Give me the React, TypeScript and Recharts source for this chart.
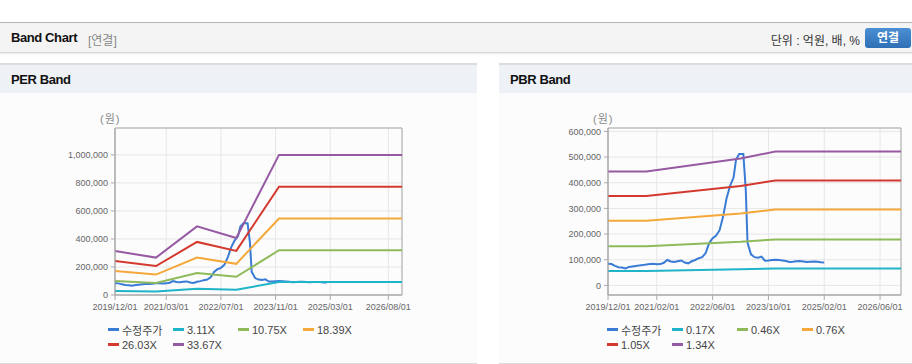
import { CartesianGrid, Line, LineChart, ReferenceArea, XAxis, YAxis } from 'recharts'

// month index 0 = 2019/12
const PRICE_MONTHS = [
  0, 1, 2, 3, 4, 5, 6, 7, 8, 9, 10, 11, 12, 13, 14, 15, 16, 17, 18, 19, 20, 21, 22, 23, 24, 25, 26, 27, 28, 29,
  30, 31, 32, 33, 34, 35, 36, 36.7, 37.6, 38.8, 39.5, 40, 41, 42, 43, 44, 45, 46, 47, 48, 49, 50, 51, 52, 53, 54,
  55, 56, 57, 58, 59, 60, 61, 62,
]
const PRICE = [
  84000, 83000, 76000, 71000, 70000, 66000, 72000, 74000, 76000, 78000, 79000, 81000, 83000, 84000, 82000, 83000,
  88000, 99000, 93000, 91000, 94000, 97000, 89000, 86000, 94000, 99000, 106000, 110000, 126000, 165000, 184000,
  194000, 215000, 268000, 340000, 388000, 420000, 489000, 512000, 512000, 372000, 166000, 121000, 110000, 108000,
  112000, 96000, 97000, 99000, 100000, 99000, 97000, 95000, 91000, 92000, 94000, 95000, 93000, 91000, 92000, 93000,
  92000, 90000, 89000,
]

const PER_MONTHS = [0, 12, 24, 35.5, 48, 84]
const PER_311 = [29000, 24700, 45300, 37600, 92400, 92400]
const PER_1075 = [100300, 85200, 156400, 129900, 319300, 319300]
const PER_1839 = [171500, 145800, 267600, 222300, 546200, 546200]
const PER_2603 = [242800, 206400, 378800, 314600, 773100, 773100]
const PER_3367 = [314000, 267000, 490000, 407000, 1000000, 1000000]
const PER_X_TICKS = [0, 15, 31, 47, 63, 80]
const PER_X_LABELS = ['2019/12/01', '2021/03/01', '2022/07/01', '2023/11/01', '2025/03/01', '2026/08/01']
const PER_Y_TICKS = [0, 200000, 400000, 600000, 800000, 1000000]

const PBR_MONTHS = [0, 11, 38, 48, 84]
const PBR_017 = [56300, 56300, 62700, 66200, 66200]
const PBR_046 = [152400, 152400, 169600, 179200, 179200]
const PBR_076 = [251800, 251800, 280200, 296100, 296100]
const PBR_105 = [347900, 347900, 387100, 409100, 409100]
const PBR_134 = [444000, 444000, 494000, 522000, 522000]
const PBR_X_TICKS = [0, 14, 30, 46, 62, 78]
const PBR_X_LABELS = ['2019/12/01', '2021/02/01', '2022/06/01', '2023/10/01', '2025/02/01', '2026/06/01']
const PBR_Y_TICKS = [0, 100000, 200000, 300000, 400000, 500000, 600000]

const COLORS = ['#3a7bd5', '#1fb4c8', '#8fba5a', '#f4a83a', '#d4392d', '#965aa3']
const PER_NAMES = ['수정주가', '3.11X', '10.75X', '18.39X', '26.03X', '33.67X']
const PBR_NAMES = ['수정주가', '0.17X', '0.46X', '0.76X', '1.05X', '1.34X']

const FONT = 'Arial, "Liberation Sans", "Noto Sans CJK KR", sans-serif'
const AXIS = '#aaaaaa'
const TICK = { fill: '#666', fontSize: 9, fontFamily: FONT }

const toPoints = (months: number[], values: number[]) => months.map((m, i) => ({ m, v: values[i] }))

function BandChart(props: {
  left: number
  width: number
  margin: { top: number; right: number; left: number; bottom: number }
  yDomain: [number, number]
  yTicks: number[]
  xTicks: number[]
  xLabels: string[]
  bandMonths: number[]
  bands: number[][]
}) {
  const { left, width, margin, yDomain, yTicks, xTicks, xLabels, bandMonths, bands } = props
  const series = [toPoints(PRICE_MONTHS, PRICE), ...bands.map((b) => toPoints(bandMonths, b))]
  return (
    <div style={{ position: 'absolute', left, top: 100, width, height: 215 }}>
      <LineChart width={width} height={215} margin={margin}>
        <CartesianGrid stroke="#e6e6e6" />
        <XAxis
          dataKey="m"
          type="number"
          domain={[0, 84]}
          ticks={xTicks}
          interval={0}
          tickFormatter={(v: number) => xLabels[xTicks.indexOf(v)] ?? ''}
          tick={TICK}
          height={20}
          tickSize={5}
          tickMargin={4}
          axisLine={{ stroke: AXIS }}
          tickLine={{ stroke: AXIS }}
          allowDataOverflow
        />
        <YAxis
          type="number"
          domain={yDomain}
          ticks={yTicks}
          interval={0}
          width={60}
          tickFormatter={(v: number) => v.toLocaleString('en-US')}
          tick={TICK}
          tickSize={4}
          tickMargin={3}
          axisLine={{ stroke: AXIS }}
          tickLine={{ stroke: AXIS }}
          allowDataOverflow
        />
        <ReferenceArea x1={0} x2={84} y1={yDomain[0]} y2={yDomain[1]} fill="none" stroke={AXIS} ifOverflow="visible" />
        {series.map((data, i) => (
          <Line
            key={i}
            data={data}
            dataKey="v"
            type="linear"
            stroke={COLORS[i]}
            strokeWidth={2}
            dot={false}
            activeDot={false}
            isAnimationActive={false}
          />
        ))}
      </LineChart>
    </div>
  )
}

function Legend({ left, names }: { left: number; names: string[] }) {
  return (
    <>
      {names.map((name, i) => (
        <div
          key={name}
          style={{
            position: 'absolute',
            left: left + (i % 4) * 65,
            top: i < 4 ? 322 : 337,
            height: 15,
            display: 'flex',
            alignItems: 'center',
            fontSize: 11,
            color: '#444',
            whiteSpace: 'nowrap',
          }}
        >
          <span style={{ width: 11, height: 3, background: COLORS[i], marginRight: 3 }} />
          {name}
        </div>
      ))}
    </>
  )
}

function Panel({ left, width, title }: { left: number; width: number; title: string }) {
  return (
    <div
      style={{
        position: 'absolute',
        left,
        top: 63,
        width,
        height: 298,
        borderTop: '2px solid #dcdcdc',
        borderBottom: '2px solid #dcdcdc',
        background: '#fcfcfd',
      }}
    >
      <div
        style={{
          height: 28,
          background: '#eef2f7',
          paddingLeft: 11,
          lineHeight: '30px',
          fontSize: 13,
          fontWeight: 'bold',
          color: '#111',
          letterSpacing: -0.4,
        }}
      >
        {title}
      </div>
    </div>
  )
}

export default function App() {
  return (
    <div style={{ position: 'relative', width: 912, height: 364, overflow: 'hidden', fontFamily: FONT, background: '#fff' }}>
      <style>{'body{margin:0}'}</style>
      <div
        style={{
          position: 'absolute',
          left: 0,
          top: 22,
          width: 912,
          height: 29,
          borderTop: '1px solid #b5b5b5',
          borderBottom: '1px solid #d6d6d6',
          boxShadow: '0 1px 2px rgba(0,0,0,0.10)',
          background: '#f4f4f4',
        }}
      >
        <span style={{ position: 'absolute', left: 11, top: 7, fontSize: 13, fontWeight: 'bold', color: '#111', letterSpacing: -0.4 }}>
          Band Chart
        </span>
        <span style={{ position: 'absolute', left: 88, top: 8, fontSize: 12, color: '#888' }}>[연결]</span>
        <span style={{ position: 'absolute', right: 52, top: 8, fontSize: 12, color: '#333' }}>단위 : 억원, 배, %</span>
        <div
          style={{
            position: 'absolute',
            left: 865,
            top: 5,
            width: 46,
            height: 20,
            borderRadius: 3,
            background: 'linear-gradient(#4a8fd3, #2f6fb5)',
            color: '#fff',
            fontSize: 12,
            fontWeight: 'bold',
            lineHeight: '20px',
            textAlign: 'center',
          }}
        >
          연결
        </div>
      </div>

      <Panel left={0} width={477} title="PER Band" />
      <Panel left={499} width={413} title="PBR Band" />

      <div style={{ position: 'absolute', left: 100, top: 110, fontSize: 11, color: '#888', letterSpacing: 1 }}>(원)</div>
      <div style={{ position: 'absolute', left: 593, top: 110, fontSize: 11, color: '#888', letterSpacing: 1 }}>(원)</div>

      <BandChart
        left={0}
        width={460}
        margin={{ top: 28, right: 58, left: 55, bottom: 0 }}
        yDomain={[0, 1192000]}
        yTicks={PER_Y_TICKS}
        xTicks={PER_X_TICKS}
        xLabels={PER_X_LABELS}
        bandMonths={PER_MONTHS}
        bands={[PER_311, PER_1075, PER_1839, PER_2603, PER_3367]}
      />
      <BandChart
        left={520}
        width={392}
        margin={{ top: 28, right: 11, left: 28, bottom: 0 }}
        yDomain={[-37400, 613200]}
        yTicks={PBR_Y_TICKS}
        xTicks={PBR_X_TICKS}
        xLabels={PBR_X_LABELS}
        bandMonths={PBR_MONTHS}
        bands={[PBR_017, PBR_046, PBR_076, PBR_105, PBR_134]}
      />

      <Legend left={108} names={PER_NAMES} />
      <Legend left={607} names={PBR_NAMES} />
    </div>
  )
}
